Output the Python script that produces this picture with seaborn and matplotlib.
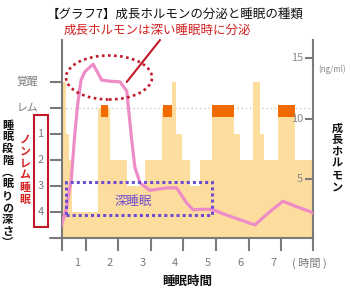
import numpy as np
import pandas as pd
import matplotlib
matplotlib.use('Agg')
import matplotlib.pyplot as plt
import matplotlib.transforms as mtransforms
from matplotlib.patches import Ellipse, Rectangle
from matplotlib.lines import Line2D
import seaborn as sns

# ---------------- data ----------------
stage_labels = ['覚醒', 'レム']
depth_labels = ['1', '2', '3', '4']
# hypnogram: segment edges in hours, stage index (0 wake, 1 REM, 2..5 = stage 1..4)
hyp_edges = [0.26, 0.40, 0.49, 0.58, 1.38, 1.75, 2.27, 2.82, 3.34, 3.65, 3.77,
             3.95, 4.20, 4.51, 4.88, 5.55, 5.73, 6.13, 6.35, 6.47, 6.90, 7.42, 7.97]
hyp_stage = [0, 2, 3, 5, 1, 3, 4, 3, 1, 0, 2, 3, 4, 3, 1, 2, 3, 0, 2, 3, 1, 3]
# REM markers (hours)
rem_start = [1.46, 3.37, 4.88, 6.90]
rem_end = [1.68, 3.65, 5.55, 7.42]
# growth hormone (ng/ml)
gh_hours = [0.26, 0.40, 0.56, 0.66, 0.76, 0.86, 0.98, 1.23, 1.49, 1.75, 2.05, 2.26,
            2.41, 2.51, 2.67, 2.97, 3.48, 3.79, 4.10, 4.29, 4.71, 4.90, 5.33, 6.19,
            6.65, 7.05, 7.47, 7.88, 7.97]
gh_value = [1.2, 2.5, 5.0, 8.5, 11.3, 13.2, 13.9, 14.5, 13.2, 13.1, 13.05, 12.3,
            8.3, 6.0, 4.7, 4.1, 4.3, 4.3, 3.05, 2.5, 2.55, 2.5, 2.05, 1.25,
            2.35, 3.2, 2.75, 2.35, 2.2]
hour_ticks = [1, 2, 3, 4, 5, 6, 7]
gh_ticks = [5, 10, 15]

# ---------------- style ----------------
sns.set_style('white')
plt.rcParams['font.family'] = ['Noto Sans CJK JP', 'DejaVu Sans']

W, H = 350, 292
fig = plt.figure(figsize=(W / 100, H / 100), dpi=100)
L, R, T, B = 61.5, 313, 40, 238
ax = fig.add_axes([L / W, 1 - B / H, (R - L) / W, (B - T) / H])

FILL = '#FDDD9E'
ORANGE = '#F06A00'
PINK = '#EE8CC8'
GRAY = '#7a7a7a'
RED = '#D42020'
DRED = '#C01828'
PURPLE = '#6E4ED0'

def fx(x):
    return x / W

def fy(y):
    return 1 - y / H

# hypnogram fill
ys = list(hyp_stage) + [hyp_stage[-1]]
ax.fill_between(hyp_edges, ys, 6.0, step='post', color=FILL, lw=0, zorder=1)
ax.axhline(1, color='#c8c8c8', lw=1, ls=(0, (1, 2)), zorder=0.5)
ax.bar(rem_start, 0.45, width=np.array(rem_end) - np.array(rem_start), bottom=0.9,
       align='edge', color=ORANGE, lw=0, zorder=2)

ax.set_xlim(0.26, 7.97)
ax.set_ylim(6.0, -1.615)
ax.set_yticks([0, 1, 2, 3, 4, 5])
ax.set_yticklabels([])
ax.set_xticks([0.26] + hour_ticks + [7.97])
ax.set_xticklabels([])
ax.tick_params(axis='y', direction='out', length=8.4, width=1.5, color=GRAY, left=True)
ax.tick_params(axis='x', direction='out', length=9, width=1.5, color=GRAY, bottom=True)
for s in ['top', 'right']:
    ax.spines[s].set_visible(False)
for s in ['left', 'bottom']:
    ax.spines[s].set_color(GRAY)
    ax.spines[s].set_linewidth(1.5)
ax.patch.set_alpha(0)

# growth hormone on right axis
ax2 = ax.twinx()
sns.lineplot(x=gh_hours, y=gh_value, ax=ax2, color=PINK, linewidth=2.3, sort=False, zorder=3)
ax2.set_ylim(0.17, 16.5)
ax2.set_xlim(0.26, 7.97)
ax2.set_yticks(gh_ticks)
ax2.set_yticklabels([])
ax2.tick_params(axis='y', direction='in', length=6, width=1.5, color=GRAY, right=True)
for s in ['top', 'left', 'bottom']:
    ax2.spines[s].set_visible(False)
ax2.spines['right'].set_color(GRAY)
ax2.spines['right'].set_linewidth(1.5)
ax2.set_ylabel('')

tr2 = mtransforms.blended_transform_factory(ax2.transAxes, ax2.transData)
for v in gh_ticks:
    ax2.text((303 - L) / (R - L), v, str(v), transform=tr2, ha='right', va='center',
             fontsize=8, color='#8a8a8a')

# left labels
trL = mtransforms.blended_transform_factory(fig.transFigure, ax.transData)
for i, lab in enumerate(stage_labels):
    ax.text(fx(38.5), i, lab, transform=trL, ha='right', va='center', fontsize=7.8, color=GRAY)
for i, lab in enumerate(depth_labels):
    ax.text(fx(40.5), i + 2, lab, transform=trL, ha='center', va='center', fontsize=8, color=GRAY)

# bottom labels
trB = mtransforms.blended_transform_factory(ax.transData, fig.transFigure)
for h in hour_ticks:
    ax.text(h - 0.25, fy(263), str(h), transform=trB, ha='center', va='center',
            fontsize=8, color=GRAY)
fig.text(fx(309), fy(263), '( 時間 )', ha='center', va='center', fontsize=8, color=GRAY)
fig.text(fx(187), fy(281.5), '睡眠時間', ha='center', va='center', fontsize=9,
         fontweight='bold', color='#111111')
fig.add_artist(Line2D([fx(50), fx(L)], [fy(B), fy(B)], color=GRAY, lw=1.5))

# titles
fig.text(fx(175), fy(14), '【グラフ7】成長ホルモンの分泌と睡眠の種類', ha='center', va='center',
         fontsize=9, color='#111111')
fig.text(fx(157.5), fy(30.5), '成長ホルモンは深い睡眠時に分泌', ha='center', va='center',
         fontsize=9, color=RED)
fig.add_artist(Line2D([fx(160), fx(126.7)], [fy(40), fy(82)], color=DRED, lw=1.5))
fig.add_artist(Ellipse((fx(109), fy(77.5)), 86 / W, 44 / H, transform=fig.transFigure,
                       fill=False, ec=DRED, lw=1.9, ls=(0, (1, 1.3)), zorder=5))

# deep sleep box
fig.add_artist(Rectangle((fx(65.5), fy(214.5)), (212.5 - 65.5) / W, (214.5 - 182) / H,
                         transform=fig.transFigure, fill=False, ec=PURPLE, lw=2.2,
                         ls=(0, (1, 1)), zorder=5))
fig.text(fx(133), fy(201), '深睡眠', ha='center', va='center', fontsize=9, color=PURPLE)

# red box around 1-4
fig.add_artist(Rectangle((fx(34), fy(227)), 14 / W, 112 / H, transform=fig.transFigure,
                         fill=False, ec=DRED, lw=1.5))

def vtext(s, x, y0, step, **kw):
    for i, ch in enumerate(s):
        fig.text(fx(x), fy(y0 + i * step), ch, ha='center', va='center', **kw)

vtext('睡眠段階︵眠りの深さ︶', 7.7, 125, 11.8, fontsize=8, fontweight='bold', color='#111111')
vtext('ノンレム睡眠', 25, 140, 12.0, fontsize=7.8, fontweight='bold', color=RED)
vtext('成長ホルモン', 337, 128, 11.8, fontsize=8, fontweight='bold', color='#111111')
fig.text(fx(332), fy(69), '(ng/ml)', ha='center', va='center', fontsize=5.8, color='#8a8a8a')

fig.savefig('out.png', dpi=100)
